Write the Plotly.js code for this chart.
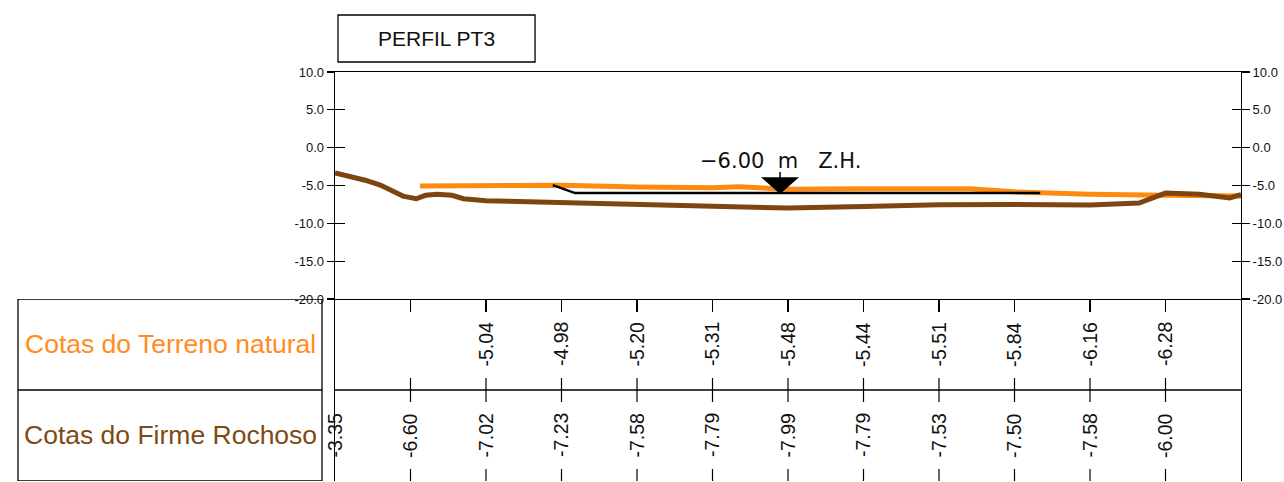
<!DOCTYPE html>
<html>
<head>
<meta charset="utf-8">
<script src="https://cdn.plot.ly/plotly-3.0.1.min.js"></script>
<style>html,body{margin:0;padding:0;background:#fff;}#chart{width:1284px;height:482px;}</style>
</head>
<body>
<div id="chart"></div>
<script>
// ---- data ----
const chartTitle = "PERFIL PT3";
const rowNames = ["Cotas do Terreno natural", "Cotas do Firme Rochoso"];
const stations = [0, 20, 40, 60, 80, 100, 120, 140, 160, 180, 200, 220];
const terrenoLabels = [null, null, -5.04, -4.98, -5.20, -5.31, -5.48, -5.44, -5.51, -5.84, -6.16, -6.28];
const rochosoLabels = [-3.35, -6.60, -7.02, -7.23, -7.58, -7.79, -7.99, -7.79, -7.53, -7.50, -7.58, -6.00];

// profile lines
const terrenoX = [22.5, 40, 58, 60, 80, 100, 107, 120, 140, 160, 168, 180, 200, 220, 240];
const terrenoY = [-5.05, -5.04, -4.93, -4.98, -5.20, -5.31, -5.18, -5.48, -5.44, -5.51, -5.42, -5.84, -6.16, -6.28, -6.40];
const rochosoX = [0, 4, 8, 12, 15, 18, 20, 21.5, 24, 27, 31, 34, 40, 60, 80, 100, 120, 140, 160, 180, 200, 213, 220, 229, 233, 237, 240];
const rochosoY = [-3.35, -3.75, -4.30, -4.95, -5.60, -6.40, -6.60, -6.75, -6.30, -6.15, -6.30, -6.75, -7.02, -7.23, -7.58, -7.79, -7.99, -7.79, -7.53, -7.50, -7.58, -7.32, -6.00, -6.17, -6.35, -6.65, -6.20];

// Z.H. reference level line
const zhLevel = -6.00;
const zhText = "\u22126.00\u00A0\u00A0m\u00A0\u00A0\u00A0Z.H.";
const zhX = [57.7, 63.6, 186.8];
const zhY = [-4.95, -6.00, -6.00];
const zhMarkX = 117.9;

const yTicks = [10, 5, 0, -5, -10, -15, -20];
const xRange = [0, 240];
const yRange = [-20, 10];

// ---- styles ----
const orange = "#FF8A10";
const brown = "#7E4511";
const orangeText = "#FF8C1E";
const brownText = "#7E4A14";
const font = "Liberation Sans, Arial, sans-serif";

const yTickText = yTicks.map(v => v.toFixed(1));

const traces = [
  {x: terrenoX, y: terrenoY, mode: "lines", line: {color: orange, width: 5}, hoverinfo: "skip"},
  {x: rochosoX, y: rochosoY, mode: "lines", line: {color: brown, width: 5}, hoverinfo: "skip"},
  {x: zhX, y: zhY, mode: "lines", line: {color: "#000", width: 2.5}, hoverinfo: "skip"},
  {x: [], y: [], xaxis: "x", yaxis: "y2"},
  {x: [], y: [], xaxis: "x", yaxis: "y3"},
  {x: [], y: [], xaxis: "x", yaxis: "y4"},
  {x: [], y: [], xaxis: "x", yaxis: "y5"}
];

const mainDomain = [0.445, 1];
const baseY = {range: yRange, domain: mainDomain, tickvals: yTicks, ticktext: yTickText,
  showgrid: false, zeroline: false, tickcolor: "#000", tickwidth: 1.2,
  tickfont: {family: font, size: 13, color: "#111"}, fixedrange: true};

const shapes = [];
const annotations = [];

// title box
shapes.push({type: "rect", xref: "paper", yref: "paper", x0: 0.0033, x1: 0.2208, y0: 1.0244, y1: 1.1394,
  line: {color: "#000", width: 1.3}, fillcolor: "rgba(0,0,0,0)"});
annotations.push({xref: "paper", yref: "paper", x: 0.112, y: 1.082, text: chartTitle, showarrow: false,
  xanchor: "center", yanchor: "middle", font: {family: font, size: 21, color: "#111"}});

// Z.H. marker and text
shapes.push({type: "path", xref: "x", yref: "y", xsizemode: "pixel", ysizemode: "pixel",
  xanchor: zhMarkX, yanchor: zhLevel, path: "M-17,15 L17,15 L0,0 Z M0,15 L0,21",
  fillcolor: "#000", line: {color: "#000", width: 1.5}});
annotations.push({xref: "x", yref: "y", x: zhMarkX, y: zhLevel, yshift: 32, text: zhText, showarrow: false,
  xanchor: "center", yanchor: "middle", font: {family: "DejaVu Sans, sans-serif", size: 21, color: "#111"}});

// left row-name box
shapes.push({type: "rect", xref: "paper", yref: "y2", x0: -0.3499, x1: -0.01435, y0: 0, y1: 2,
  line: {color: "#000", width: 1.3}});
shapes.push({type: "line", xref: "paper", yref: "y2", x0: -0.3499, x1: -0.01435, y0: 1, y1: 1,
  line: {color: "#000", width: 1.3}});
// table middle line
shapes.push({type: "line", xref: "x", yref: "y2", x0: xRange[0], x1: xRange[1], y0: 1, y1: 1,
  line: {color: "#000", width: 1.3}});

annotations.push({xref: "paper", yref: "y2", x: -0.1821, y: 1.5, text: rowNames[0], showarrow: false,
  xanchor: "center", yanchor: "middle", font: {family: font, size: 26.5, color: orangeText}});
annotations.push({xref: "paper", yref: "y2", x: -0.1821, y: 0.5, text: rowNames[1], showarrow: false,
  xanchor: "center", yanchor: "middle", font: {family: font, size: 26.5, color: brownText}});

const tk = 12 / 91;
stations.forEach((s, i) => {
  if (i > 0) {
    shapes.push({type: "line", xref: "x", yref: "y2", x0: s, x1: s, y0: 1, y1: 1 + tk, line: {color: "#000", width: 1.2}});
    shapes.push({type: "line", xref: "x", yref: "y2", x0: s, x1: s, y0: 1 - tk, y1: 1, line: {color: "#000", width: 1.2}});
    shapes.push({type: "line", xref: "x", yref: "y2", x0: s, x1: s, y0: 0, y1: tk, line: {color: "#000", width: 1.2}});
  }
  if (terrenoLabels[i] !== null) {
    annotations.push({xref: "x", yref: "y2", x: s, y: 1.5, text: terrenoLabels[i].toFixed(2), textangle: -90,
      showarrow: false, xanchor: "center", yanchor: "middle", font: {family: font, size: 19.5, color: "#111"}});
  }
  annotations.push({xref: "x", yref: "y2", x: s, y: 0.5, text: rochosoLabels[i].toFixed(2), textangle: -90,
    showarrow: false, xanchor: "center", yanchor: "middle", font: {family: font, size: 19.5, color: "#111"}});
});

const layout = {
  width: 1284, height: 482,
  margin: {l: 335, r: 43, t: 72, b: 1, pad: 0},
  paper_bgcolor: "#fff", plot_bgcolor: "rgba(0,0,0,0)",
  showlegend: false,
  xaxis: {range: xRange, anchor: "y", showline: true, mirror: true, linecolor: "#000", linewidth: 1.3,
    ticks: "outside", ticklen: 12, tickwidth: 1.2, tickcolor: "#000", tickvals: stations.slice(1),
    showticklabels: false, showgrid: false, zeroline: false, fixedrange: true},
  yaxis: Object.assign({}, baseY, {anchor: "x", side: "left", showline: true, mirror: true, linecolor: "#000",
    linewidth: 1.3, ticks: "outside", ticklen: 7, showticklabels: true}),
  yaxis3: Object.assign({}, baseY, {overlaying: "y", anchor: "x", side: "left", showline: false,
    ticks: "inside", ticklen: 10, showticklabels: false}),
  yaxis4: Object.assign({}, baseY, {overlaying: "y", anchor: "x", side: "right", showline: false,
    ticks: "outside", ticklen: 8, showticklabels: true}),
  yaxis5: Object.assign({}, baseY, {overlaying: "y", anchor: "x", side: "right", showline: false,
    ticks: "inside", ticklen: 9, showticklabels: false}),
  yaxis2: {range: [0, 2], domain: [0, mainDomain[0]], anchor: "x", showline: true, mirror: true,
    linecolor: "#000", linewidth: 1.3, showticklabels: false, ticks: "", showgrid: false, zeroline: false, fixedrange: true},
  shapes: shapes,
  annotations: annotations
};

Plotly.newPlot("chart", traces, layout, {staticPlot: true, displayModeBar: false});
</script>
</body>
</html>
